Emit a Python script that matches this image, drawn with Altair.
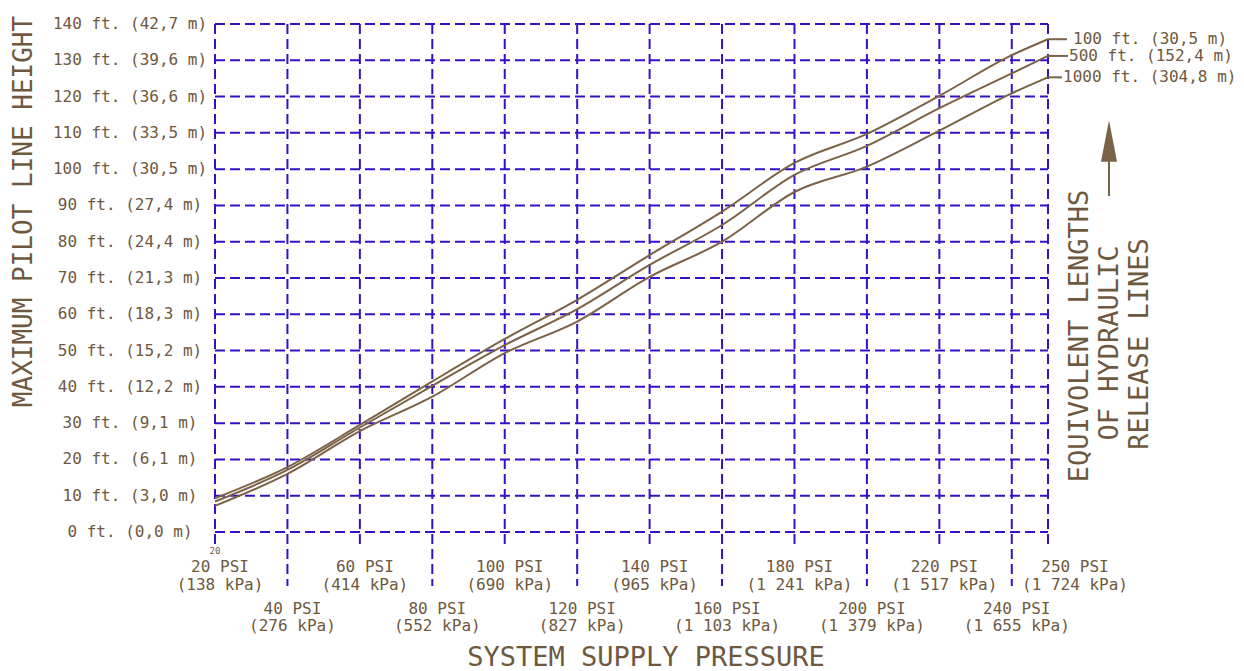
import altair as alt
import pandas as pd

# ---------------- data ----------------
psi = [20, 40, 60, 80, 100, 120, 140, 160, 180, 200, 220, 240, 250]
h_100 = [9.3, 17.9, 29.5, 41.5, 53.2, 64.0, 76.3, 88.3, 101.7, 109.7, 120.2, 131.4, 135.8]
h_500 = [8.4, 17.1, 28.8, 40.3, 51.5, 61.4, 73.6, 84.6, 98.4, 106.4, 116.8, 126.4, 131.2]
h_1000 = [7.2, 16.0, 27.8, 37.3, 49.3, 58.0, 70.3, 80.0, 93.7, 100.7, 110.6, 120.9, 125.3]
series_names = ["100 ft. (30,5 m)", "500 ft. (152,4 m)", "1000 ft. (304,8 m)"]

y_ticks = [0, 10, 20, 30, 40, 50, 60, 70, 80, 90, 100, 110, 120, 130, 140]
y_tick_labels = ["0 ft. (0,0 m)", "10 ft. (3,0 m)", "20 ft. (6,1 m)", "30 ft. (9,1 m)",
                 "40 ft. (12,2 m)", "50 ft. (15,2 m)", "60 ft. (18,3 m)", "70 ft. (21,3 m)",
                 "80 ft. (24,4 m)", "90 ft. (27,4 m)", "100 ft. (30,5 m)", "110 ft. (33,5 m)",
                 "120 ft. (36,6 m)", "130 ft. (39,6 m)", "140 ft. (42,7 m)"]

x_ticks = [20, 40, 60, 80, 100, 120, 140, 160, 180, 200, 220, 240, 250]
x_psi_labels = ["20 PSI", "40 PSI", "60 PSI", "80 PSI", "100 PSI", "120 PSI", "140 PSI",
                "160 PSI", "180 PSI", "200 PSI", "220 PSI", "240 PSI", "250 PSI"]
x_kpa_labels = ["(138 kPa)", "(276 kPa)", "(414 kPa)", "(552 kPa)", "(690 kPa)", "(827 kPa)",
                "(965 kPa)", "(1 103 kPa)", "(1 241 kPa)", "(1 379 kPa)", "(1 517 kPa)",
                "(1 655 kPa)", "(1 724 kPa)"]
x_label_row = ["upper", "lower", "upper", "lower", "upper", "lower", "upper", "lower",
               "upper", "lower", "upper", "lower", "upper"]

x_title = "SYSTEM SUPPLY PRESSURE"
y_title = "MAXIMUM PILOT LINE HEIGHT"
right_title = ["EQUIVOLENT LENGTHS", "OF HYDRAULIC", "RELEASE LINES"]

# ---------------- tables ----------------
curves = pd.DataFrame({
    "psi": psi * 3,
    "height": h_100 + h_500 + h_1000,
    "series": [series_names[0]] * len(psi) + [series_names[1]] * len(psi) + [series_names[2]] * len(psi),
})
ends = pd.DataFrame({"psi": [250] * 3, "height": [h_100[-1], h_500[-1], h_1000[-1]], "label": series_names})
ydf = pd.DataFrame({"v": y_ticks, "label": y_tick_labels})
xdf = pd.DataFrame({"psi": x_ticks, "l1": x_psi_labels, "l2": x_kpa_labels, "row": x_label_row})
one = pd.DataFrame({"a": [0]})

FONT = "DejaVu Sans Mono"
TXT = "#6e583f"
LINE = "#7a6247"
GRID = "#3510c8"
W, H = 833, 508

xs = alt.Scale(domain=[20, 250], nice=False, zero=False)
ys = alt.Scale(domain=[0, 140], nice=False, zero=False)

layers = []

# horizontal grid
layers.append(alt.Chart(ydf).mark_rule(color=GRID, strokeWidth=2, strokeDash=[10, 5]).encode(
    y=alt.Y("v:Q", scale=ys, axis=None),
    x=alt.value(0),
    x2=alt.value(W),
))
# vertical grid (extending below plot as ticks)
for row, ext in [("upper", 523), ("lower", 562)]:
    layers.append(alt.Chart(xdf).transform_filter(alt.datum.row == row).mark_rule(
        color=GRID, strokeWidth=2, strokeDash=[10, 5]).encode(
        x=alt.X("psi:Q", scale=xs, axis=None),
        y=alt.value(0),
        y2=alt.value(ext),
    ))

# curves
layers.append(alt.Chart(curves).mark_line(color=LINE, strokeWidth=2, interpolate="monotone").encode(
    x=alt.X("psi:Q", scale=xs, axis=None),
    y=alt.Y("height:Q", scale=ys, axis=None),
    detail="series:N",
))

# leader lines and end labels
for i, (dx, lead) in enumerate([(25, 852), (21, 853), (15, 847)]):
    sub = ends.iloc[[i]]
    layers.append(alt.Chart(sub).mark_rule(color=LINE, strokeWidth=2).encode(
        x=alt.X("psi:Q", scale=xs, axis=None),
        x2=alt.value(lead),
        y=alt.Y("height:Q", scale=ys, axis=None),
    ))
    layers.append(alt.Chart(sub).mark_text(font=FONT, fontSize=16, color=TXT, align="left",
                                           baseline="middle", dx=dx).encode(
        x=alt.X("psi:Q", scale=xs, axis=None),
        y=alt.Y("height:Q", scale=ys, axis=None),
        text="label:N",
    ))

# y tick labels
layers.append(alt.Chart(ydf).mark_text(font=FONT, fontSize=16, color=TXT, align="center",
                                       baseline="middle").encode(
    y=alt.Y("v:Q", scale=ys, axis=None),
    x=alt.value(130 - 215),
    text="label:N",
))

# x tick labels
for row, y1, y2 in [("upper", 542.5, 561), ("lower", 584.5, 602)]:
    base = alt.Chart(xdf).transform_filter(alt.datum.row == row).transform_filter(alt.datum.psi < 250)
    for field, yy in [("l1", y1), ("l2", y2)]:
        layers.append(base.mark_text(font=FONT, fontSize=16, color=TXT, align="center",
                                     baseline="middle", dx=5).encode(
            x=alt.X("psi:Q", scale=xs, axis=None),
            y=alt.value(yy),
            text=f"{field}:N",
        ))
last = alt.Chart(xdf).transform_filter(alt.datum.psi == 250)
for field, yy in [("l1", 542.5), ("l2", 561)]:
    layers.append(last.mark_text(font=FONT, fontSize=16, color=TXT, align="center",
                                 baseline="middle", dx=27).encode(
        x=alt.X("psi:Q", scale=xs, axis=None),
        y=alt.value(yy),
        text=f"{field}:N",
    ))
# small stray "20" mark near origin
layers.append(alt.Chart(one).mark_text(font=FONT, fontSize=9, color=TXT, align="center",
                                       baseline="middle", text="20").encode(
    x=alt.value(0), y=alt.value(527),
))

# titles
layers.append(alt.Chart(one).mark_text(font=FONT, fontSize=27, color=TXT, align="center",
                                       baseline="middle", text=x_title).encode(
    x=alt.value(646 - 215), y=alt.value(657.5 - 24),
))
layers.append(alt.Chart(one).mark_text(font=FONT, fontSize=26, color=TXT, align="center",
                                       baseline="middle", angle=270, text=y_title).encode(
    x=alt.value(24 - 215), y=alt.value(211.5 - 24),
))
for t, cx, cy in zip(right_title, [1080, 1110, 1140], [336, 343, 344]):
    layers.append(alt.Chart(one).mark_text(font=FONT, fontSize=27, color=TXT, align="center",
                                           baseline="middle", angle=270, text=t).encode(
        x=alt.value(cx - 215), y=alt.value(cy - 24),
    ))

# arrow
layers.append(alt.Chart(one).mark_rule(color=LINE, strokeWidth=2).encode(
    x=alt.value(894), y=alt.value(130), y2=alt.value(172),
))
layers.append(alt.Chart(one).mark_point(filled=True, color=LINE, opacity=1,
                                        shape="M0,-1L0.384,1L-0.384,1Z", size=1739).encode(
    x=alt.value(894), y=alt.value(117),
))

chart = alt.layer(*layers).properties(
    width=W, height=H,
    autosize=alt.AutoSizeParams(type="none"),
    padding={"left": 215, "top": 24, "right": 196, "bottom": 139},
    background="white",
).configure_view(strokeWidth=0)

chart.save("out.html", embed_options={"renderer": "svg", "actions": False})
